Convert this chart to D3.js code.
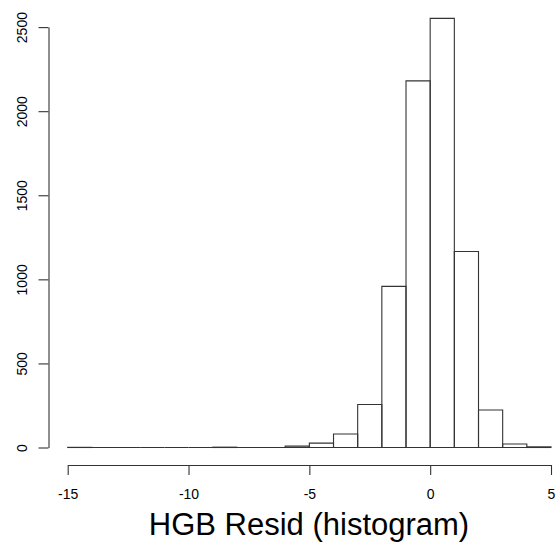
<!DOCTYPE html>
<html><head><meta charset="utf-8">
<script src="https://cdn.jsdelivr.net/npm/d3@7"></script>
<style>html,body{margin:0;padding:0;background:#fff;}</style>
</head><body>
<script>
const binEdges = [-15,-14,-13,-12,-11,-10,-9,-8,-7,-6,-5,-4,-3,-2,-1,0,1,2,3,4,5];
const counts   = [1,0,0,0,0,0,2,0,0,8,26,80,256,958,2180,2552,1166,223,21,4];
const xTicks = [-15,-10,-5,0,5];
const yTicks = [0,500,1000,1500,2000,2500];
const title = "HGB Resid (histogram)";

const W=560,H=548;
const svg=d3.select("body").append("svg").attr("width",W).attr("height",H)
  .style("font-family","'Liberation Sans', Arial, Helvetica, sans-serif");
const x=d3.scaleLinear().domain([-15,5]).range([67.7,551]);
const y=d3.scaleLinear().domain([0,2500]).range([447.5,27.1]);
const col="#333";

const bins=counts.map((c,i)=>({x0:binEdges[i],x1:binEdges[i+1],c}));
svg.append("g").selectAll("path").data(bins).join("path")
  .attr("d",d=>`M${x(d.x0)},${y(0)}V${y(d.c)}H${x(d.x1)}V${y(0)}Z`)
  .attr("fill","none").attr("stroke",col).attr("stroke-width",1.1);

// x axis
const xa=svg.append("g").attr("transform","translate(0,465)")
  .call(d3.axisBottom(x).tickValues(xTicks).tickSize(10).tickPadding(14).tickSizeOuter(0).tickFormat(d=>String(d)));
xa.select(".domain").attr("stroke",col).attr("stroke-width",1.1);
xa.selectAll(".tick line").attr("stroke",col).attr("stroke-width",1.1);
xa.selectAll("text").attr("font-size",14).attr("fill","#000").attr("font-family","'Liberation Sans', Arial, sans-serif");

// y axis
const ya=svg.append("g").attr("transform","translate(48.5,0)")
  .call(d3.axisLeft(y).tickValues(yTicks).tickSize(10).tickSizeOuter(0).tickFormat(d=>String(d)));
ya.select(".domain").attr("stroke",col).attr("stroke-width",1.1);
ya.selectAll(".tick line").attr("stroke",col).attr("stroke-width",1.1);
ya.selectAll("text").attr("font-size",14).attr("fill","#000")
  .attr("font-family","'Liberation Sans', Arial, sans-serif")
  .attr("x",null).attr("dy",null)
  .attr("text-anchor","middle")
  .attr("transform","translate(-21.5,0) rotate(-90)");

svg.append("text").attr("x",309).attr("y",535).attr("text-anchor","middle")
  .attr("font-size",31).attr("fill","#000").text(title);
</script>
</body></html>
